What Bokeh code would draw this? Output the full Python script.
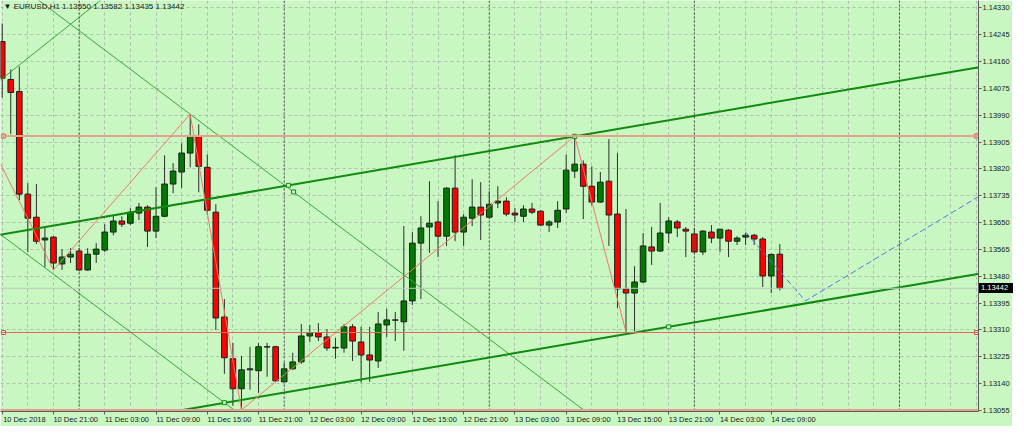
from bokeh.plotting import figure
from bokeh.layouts import column
from bokeh.models import Range1d, FixedTicker, Span, Label, PrintfTickFormatter, Div
from bokeh.embed import file_html
from bokeh.resources import INLINE

# ---------------- data (EURUSD H1, bar 0 = 10 Dec 2018 15:00) ----------------
header_text = "\u25bc EURUSD,H1  1.13550 1.13582 1.13435 1.13442"

opens = [1.14223, 1.14103, 1.14065, 1.13740, 1.13667, 1.13595, 1.13604, 1.13519, 1.13541, 1.13560,
         1.13500, 1.13550, 1.13563, 1.13620, 1.13655, 1.13648, 1.13680, 1.13699, 1.13623, 1.13670,
         1.13772, 1.13810, 1.13870, 1.13923, 1.13825, 1.13683, 1.13351, 1.13219, 1.13124, 1.13184,
         1.13181, 1.13256, 1.13257, 1.13146, 1.13187, 1.13209, 1.13291, 1.13301, 1.13288, 1.13253,
         1.13253, 1.13320, 1.13272, 1.13231, 1.13212, 1.13326, 1.13341, 1.13336, 1.13402, 1.13585,
         1.13636, 1.13652, 1.13607, 1.13759, 1.13620, 1.13664, 1.13699, 1.13667, 1.13712, 1.13718,
         1.13680, 1.13670, 1.13693, 1.13686, 1.13642, 1.13652, 1.13693, 1.13813, 1.13835, 1.13765,
         1.13715, 1.13781, 1.13677, 1.13440, 1.13427, 1.13462, 1.13573, 1.13560, 1.13617, 1.13652,
         1.13629, 1.13614, 1.13557, 1.13620, 1.13601, 1.13626, 1.13591, 1.13604, 1.13610, 1.13598,
         1.13481, 1.13550]
highs = [1.14280, 1.14135, 1.14144, 1.13775, 1.13772, 1.13633, 1.13607, 1.13566, 1.13569, 1.13569,
         1.13569, 1.13585, 1.13645, 1.13674, 1.13670, 1.13696, 1.13712, 1.13705, 1.13762, 1.13863,
         1.13838, 1.13901, 1.13993, 1.13961, 1.13866, 1.13708, 1.13408, 1.13269, 1.13228, 1.13257,
         1.13269, 1.13269, 1.13260, 1.13206, 1.13238, 1.13329, 1.13326, 1.13332, 1.13313, 1.13285,
         1.13329, 1.13329, 1.13320, 1.13320, 1.13367, 1.13377, 1.13367, 1.13639, 1.13620, 1.13670,
         1.13781, 1.13718, 1.13762, 1.13863, 1.13677, 1.13787, 1.13778, 1.13749, 1.13765, 1.13730,
         1.13696, 1.13705, 1.13712, 1.13689, 1.13658, 1.13718, 1.13866, 1.13923, 1.13847, 1.13828,
         1.13810, 1.13914, 1.13870, 1.13693, 1.13512, 1.13617, 1.13636, 1.13712, 1.13667, 1.13658,
         1.13636, 1.13633, 1.13626, 1.13642, 1.13630, 1.13629, 1.13607, 1.13617, 1.13614, 1.13604,
         1.13552, 1.13582]
lows = [1.14046, 1.13930, 1.13721, 1.13557, 1.13582, 1.13509, 1.13500, 1.13500, 1.13522, 1.13497,
        1.13497, 1.13522, 1.13557, 1.13610, 1.13636, 1.13642, 1.13658, 1.13573, 1.13601, 1.13667,
        1.13743, 1.13759, 1.13825, 1.13746, 1.13674, 1.13310, 1.13171, 1.13070, 1.13057, 1.13121,
        1.13111, 1.13162, 1.13146, 1.13143, 1.13184, 1.13203, 1.13272, 1.13275, 1.13244, 1.13219,
        1.13238, 1.13212, 1.13143, 1.13146, 1.13190, 1.13288, 1.13275, 1.13244, 1.13389, 1.13408,
        1.13554, 1.13541, 1.13576, 1.13591, 1.13576, 1.13639, 1.13595, 1.13662, 1.13696, 1.13670,
        1.13652, 1.13652, 1.13677, 1.13639, 1.13620, 1.13633, 1.13680, 1.13791, 1.13661, 1.13705,
        1.13712, 1.13576, 1.13380, 1.13304, 1.13307, 1.13459, 1.13516, 1.13557, 1.13585, 1.13604,
        1.13541, 1.13554, 1.13547, 1.13585, 1.13557, 1.13541, 1.13579, 1.13579, 1.13579, 1.13446,
        1.13427, 1.13435]
closes = [1.14107, 1.14062, 1.13740, 1.13664, 1.13591, 1.13601, 1.13522, 1.13541, 1.13550, 1.13500,
          1.13550, 1.13566, 1.13620, 1.13655, 1.13645, 1.13683, 1.13699, 1.13623, 1.13670, 1.13772,
          1.13813, 1.13870, 1.13923, 1.13828, 1.13689, 1.13348, 1.13222, 1.13124, 1.13184, 1.13187,
          1.13257, 1.13257, 1.13149, 1.13187, 1.13209, 1.13291, 1.13301, 1.13288, 1.13253, 1.13255,
          1.13320, 1.13275, 1.13231, 1.13215, 1.13329, 1.13342, 1.13342, 1.13402, 1.13585, 1.13633,
          1.13648, 1.13607, 1.13759, 1.13620, 1.13667, 1.13699, 1.13674, 1.13708, 1.13718, 1.13677,
          1.13674, 1.13693, 1.13683, 1.13642, 1.13652, 1.13689, 1.13816, 1.13835, 1.13765, 1.13715,
          1.13778, 1.13674, 1.13440, 1.13427, 1.13462, 1.13576, 1.13560, 1.13617, 1.13655, 1.13633,
          1.13623, 1.13557, 1.13623, 1.13601, 1.13629, 1.13591, 1.13601, 1.13610, 1.13598, 1.13481,
          1.13549, 1.13442]

time_tick_bars = [0, 6, 12, 18, 24, 30, 36, 42, 48, 54, 60, 66, 72, 78, 84, 90]
time_tick_labels = ["10 Dec 2018", "10 Dec 21:00", "11 Dec 03:00", "11 Dec 09:00",
                    "11 Dec 15:00", "11 Dec 21:00", "12 Dec 03:00", "12 Dec 09:00",
                    "12 Dec 15:00", "12 Dec 21:00", "13 Dec 03:00", "13 Dec 09:00",
                    "13 Dec 15:00", "13 Dec 21:00", "14 Dec 03:00", "14 Dec 09:00"]
price_ticks = [1.13055, 1.13140, 1.13225, 1.13310, 1.13395, 1.13480, 1.13565, 1.13650,
               1.13735, 1.13820, 1.13905, 1.13990, 1.14075, 1.14160, 1.14245, 1.14330]
day_separators = [9, 33, 57, 81, 105]

# drawn objects (anchor bar index, price)
upper_channel_bars = [33.5, 67]
upper_channel_prices = [1.13768, 1.13923]
lower_channel_bar = 78
lower_channel_price = 1.13320
desc_upper_bars = [22, 34.1]
desc_upper_prices = [1.13993, 1.13747]
desc_lower_bar = 26
desc_lower_price = 1.13080
asc_line_bars = [0, 10]
asc_line_prices = [1.14106, 1.14321]
zigzag_bars = [-0.2, 6, 22, 28, 67, 73]
zigzag_prices = [1.13836, 1.13500, 1.13993, 1.13057, 1.13923, 1.13304]
forecast_bars = [87, 94, 115.9]
forecast_prices = [1.13620, 1.13402, 1.13759]
hline_thick = [1.13924, 1.13057]
hline_thin = [1.13302]
bid_price = 1.13442

# ---------------- figure ----------------
FW, FH = 978, 411
X0 = -0.2
X1 = X0 + FW / 8.545
Y0, Y1 = 1.13052, 1.14353
BG = "#c8f7c2"
FONT = "Liberation Sans"
p = figure(frame_width=FW, frame_height=FH, output_backend="svg", toolbar_location=None,
           x_range=Range1d(X0, X1), y_range=Range1d(Y0, Y1),
           y_axis_location="right", min_border_left=0, min_border_top=0,
           min_border_right=0, min_border_bottom=0)
p.background_fill_color = BG
p.border_fill_color = BG
p.outline_line_color = None

for ax in (p.xaxis, p.yaxis):
    ax.axis_line_color = "#5a5a5a"
    ax.major_tick_line_color = "#5a5a5a"
    ax.minor_tick_line_color = None
    ax.major_tick_in = 0
    ax.major_tick_out = 3
    ax.major_label_text_font = FONT
    ax.major_label_text_font_size = "7.5px"
    ax.major_label_text_color = "#1a1a1a"

p.yaxis.ticker = FixedTicker(ticks=price_ticks)
p.yaxis.formatter = PrintfTickFormatter(format="%.5f")
p.yaxis.major_label_standoff = 1

# labels are centred by bokeh: put label centres ~2.6 bars right of the time tick,
# draw the real tick marks as minor ticks
label_centres = [b + 2.6 for b in time_tick_bars]
p.xaxis.ticker = FixedTicker(ticks=label_centres, minor_ticks=time_tick_bars)
p.xaxis.major_label_overrides = {c: s for c, s in zip(label_centres, time_tick_labels)}
p.xaxis.major_tick_line_color = None
p.xaxis.minor_tick_line_color = "#5a5a5a"
p.xaxis.minor_tick_in = 0
p.xaxis.minor_tick_out = 3
p.xaxis.major_label_standoff = 0

p.xgrid.ticker = FixedTicker(ticks=list(range(0, 117, 3)))
for g in (p.xgrid, p.ygrid):
    g.grid_line_color = "#aebdae"
    g.grid_line_dash = "3 3"
    g.grid_line_width = 1

for d in day_separators:
    p.add_layout(Span(location=d, dimension="height", line_color="#4a4a4a",
                      line_dash="2 2", line_width=1))

# ---------------- candles ----------------
bars = list(range(len(opens)))
tops = [max(o, c) for o, c in zip(opens, closes)]
bots = [min(o, c) for o, c in zip(opens, closes)]
cols = ["#007a00" if c >= o else "#ff0000" for o, c in zip(opens, closes)]
p.segment(x0=bars, y0=lows, x1=bars, y1=highs, line_color="#2e2e2e", line_width=1)
p.vbar(x=bars, width=0.66, top=tops, bottom=bots, fill_color=cols,
       line_color="#1e1e1e", line_width=1)

# ---------------- horizontal lines ----------------
p.add_layout(Span(location=bid_price, dimension="width", line_color="#bcc6bc", line_width=1))
for h in hline_thick:
    p.add_layout(Span(location=h, dimension="width", line_color="#e2a28c", line_width=2))
for h in hline_thin:
    p.add_layout(Span(location=h, dimension="width", line_color="#e46a5e", line_width=1))
xr_end = X1 - 0.25
p.scatter(x=[0.15, xr_end, 0.15, xr_end], y=[hline_thick[0], hline_thick[0], hline_thin[0], hline_thin[0]],
          marker="square", size=4, fill_color=BG, line_color="#e05050")


def extend(bx, py, slope=None):
    if slope is None:
        slope = (py[1] - py[0]) / (bx[1] - bx[0])
    xa, xb = X0 - 5, X1 + 5
    return [xa, xb], [py[0] + slope * (xa - bx[0]), py[0] + slope * (xb - bx[0])]


# thin green lines
thin_green = "#3aa63a"
ax_, ay_ = extend(asc_line_bars, asc_line_prices)
p.line(ax_, ay_, line_color=thin_green, line_width=1)
dslope = (desc_upper_prices[1] - desc_upper_prices[0]) / (desc_upper_bars[1] - desc_upper_bars[0])
bx_, by_ = extend(desc_upper_bars, desc_upper_prices)
p.line(bx_, by_, line_color=thin_green, line_width=1)
cx_, cy_ = extend([desc_lower_bar], [desc_lower_price], dslope)
p.line(cx_, cy_, line_color=thin_green, line_width=1)

# thick channel
thick_green = "#0f8a0f"
uslope = (upper_channel_prices[1] - upper_channel_prices[0]) / (upper_channel_bars[1] - upper_channel_bars[0])
ux_, uy_ = extend(upper_channel_bars, upper_channel_prices)
p.line(ux_, uy_, line_color=thick_green, line_width=2)
lx_, ly_ = extend([lower_channel_bar], [lower_channel_price], uslope)
p.line(lx_, ly_, line_color=thick_green, line_width=2)

# zigzag + forecast
p.line(zigzag_bars, zigzag_prices, line_color="#f07868", line_width=1)
p.line(forecast_bars, forecast_prices, line_color="#5577e8", line_width=1, line_dash="6 3")

# anchor markers
p.scatter(x=[upper_channel_bars[0], upper_channel_bars[1], lower_channel_bar, desc_lower_bar, desc_upper_bars[1]],
          y=[upper_channel_prices[0], upper_channel_prices[1], lower_channel_price, desc_lower_price, desc_upper_prices[1]],
          marker="square", size=4, fill_color=BG, line_color="#138a13")

# ---------------- header ----------------
p.add_layout(Label(x=X0, y=Y1 - 0.00004, x_offset=3, text=header_text, text_baseline="top",
                   text_font=FONT, text_font_size="8px", text_color="#1a1a1a"))

# ---------------- current bid tag over the price scale (HTML overlay) ----------------
tag_centre = (Y1 - bid_price) / (Y1 - Y0) * FH
bid_tag = Div(text=f"{bid_price:.5f}", width=34, height=10,
              styles={"position": "absolute", "left": f"{FW + 1}px", "top": f"{tag_centre - 5:.1f}px",
                      "background-color": "#000000", "color": "#ffffff",
                      "font-family": FONT, "font-size": "7.5px", "line-height": "10px",
                      "padding": "0 0 0 2px", "z-index": "10", "margin": "0"})
layout = column(p, bid_tag, spacing=0)

open("out.html", "w").write(file_html(layout, INLINE))
